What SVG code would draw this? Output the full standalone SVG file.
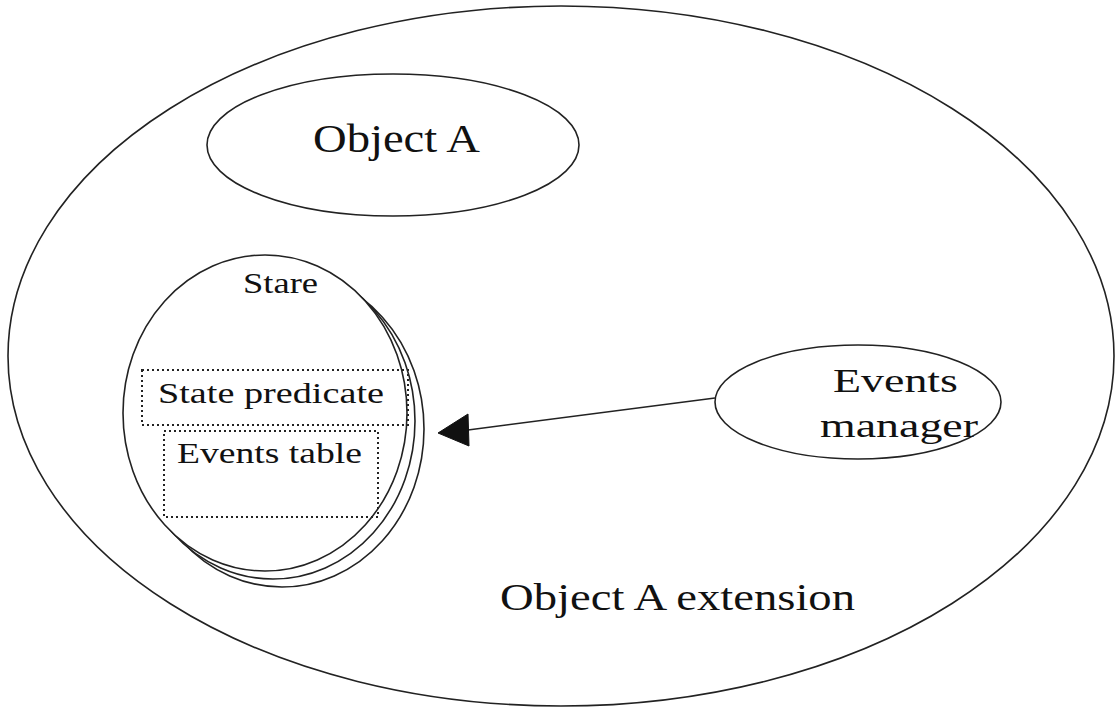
<svg xmlns="http://www.w3.org/2000/svg" width="1117" height="711" viewBox="0 0 1117 711">
<style>
.ln{fill:none;stroke:#222;stroke-width:1.6}
.wf{fill:#fff;stroke:#222;stroke-width:1.6}
.dot{fill:none;stroke:#222;stroke-width:2;stroke-dasharray:2 3}
.t{font-family:"Liberation Serif",serif;fill:#111}
</style>
<defs>
<marker id="ah" markerWidth="12" markerHeight="12" refX="11" refY="6" orient="auto" markerUnits="userSpaceOnUse" viewBox="0 0 12 12">
<path d="M0,0 L12,6 L0,12 Z" fill="#111"/>
</marker>
</defs>
<rect width="1117" height="711" fill="#fff"/>
<g id="extension">
<ellipse class="ln" cx="561" cy="356" rx="553" ry="350"/>
<text class="t" x="500" y="610" font-size="38" textLength="355" lengthAdjust="spacingAndGlyphs">Object A extension</text>
</g>
<g id="objectA">
<ellipse class="ln" cx="393" cy="145" rx="186" ry="71"/>
<text class="t" x="313" y="152" font-size="40" textLength="167" lengthAdjust="spacingAndGlyphs">Object A</text>
</g>
<g id="state">
<ellipse class="wf" cx="282" cy="429" rx="142" ry="158"/>
<ellipse class="wf" cx="273" cy="421" rx="142" ry="158"/>
<ellipse class="wf" cx="265" cy="413" rx="142" ry="158"/>
<text class="t" x="243" y="293" font-size="30" textLength="75" lengthAdjust="spacingAndGlyphs">Stare</text>
<rect class="dot" x="142" y="370" width="266" height="55"/>
<text class="t" x="158" y="403" font-size="29" textLength="226" lengthAdjust="spacingAndGlyphs">State predicate</text>
<rect class="dot" x="164" y="431" width="214" height="86"/>
<text class="t" x="177" y="463" font-size="29" textLength="185" lengthAdjust="spacingAndGlyphs">Events table</text>
</g>
<g id="eventsManager">
<ellipse class="ln" cx="858" cy="402" rx="143" ry="57"/>
<text class="t" x="833" y="392" font-size="34" textLength="125" lengthAdjust="spacingAndGlyphs">Events</text>
<text class="t" x="820" y="437" font-size="34" textLength="158" lengthAdjust="spacingAndGlyphs">manager</text>
</g>
<g id="connectors">
<line x1="715" y1="398" x2="468" y2="430" class="ln"/>
<path d="M438,433 L468,414 L469,446 Z" fill="#111" stroke="#111" stroke-width="1"/>
</g>
</svg>
